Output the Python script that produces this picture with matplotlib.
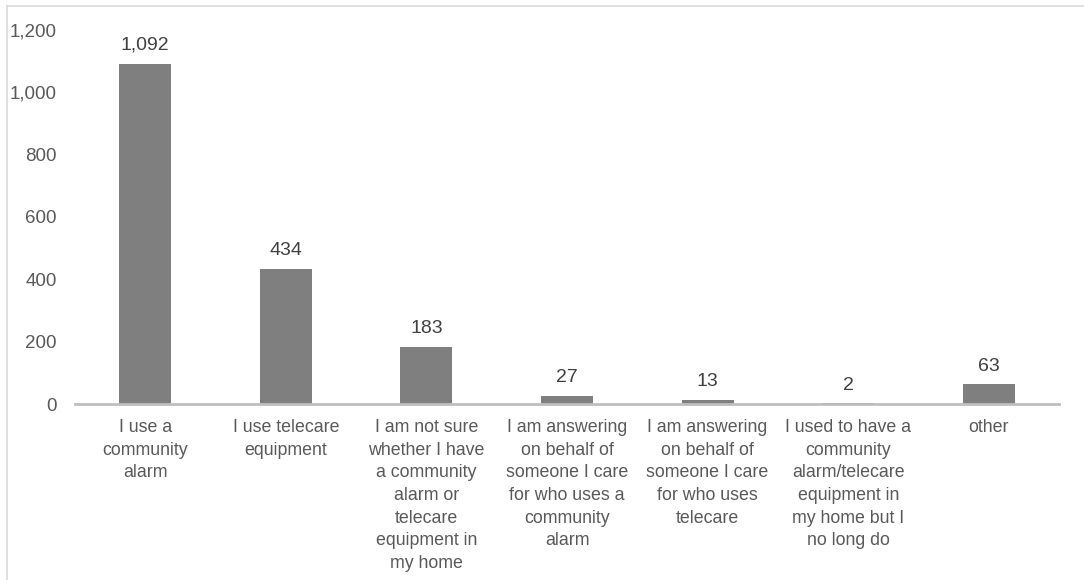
import matplotlib.pyplot as plt
from matplotlib.lines import Line2D

plt.rcParams['font.family'] = ['Liberation Sans', 'DejaVu Sans']

categories = [
    "I use a\ncommunity\nalarm",
    "I use telecare\nequipment",
    "I am not sure\nwhether I have\na community\nalarm or\ntelecare\nequipment in\nmy home",
    "I am answering\non behalf of\nsomeone I care\nfor who uses a\ncommunity\nalarm",
    "I am answering\non behalf of\nsomeone I care\nfor who uses\ntelecare",
    "I used to have a\ncommunity\nalarm/telecare\nequipment in\nmy home but I\nno long do",
    "other",
]
counts = [1092, 434, 183, 27, 13, 2, 63]
yticks = [0, 200, 400, 600, 800, 1000, 1200]

text_col = "#595959"

fig = plt.figure(figsize=(10.84, 5.8), dpi=100)
ax = fig.add_axes([0.0692, 0.3034, 0.9078, 0.645])

x = range(len(counts))
bars = ax.bar(x, counts, width=0.37, color="#7f7f7f", zorder=2)

for b, v in zip(bars, counts):
    ax.annotate(f"{v:,}", (b.get_x() + b.get_width() / 2, v),
                xytext=(0, 7), textcoords="offset points",
                ha="center", va="bottom", fontsize=14, color="#404040")

ax.set_xlim(-0.5, len(counts) - 0.5)
ax.set_ylim(0, 1200)
ax.set_yticks(yticks)
ax.set_yticklabels([f"{t:,}" for t in yticks])
ax.set_xticks(list(x))
ax.set_xticklabels(categories, linespacing=1.43)

ax.tick_params(axis="y", length=0, pad=13, labelsize=13.5, labelcolor=text_col)
ax.tick_params(axis="x", length=0, pad=11, labelsize=12.8, labelcolor=text_col)
for t in ax.get_xticklabels():
    t.set_verticalalignment("top")

for side in ["left", "right", "top"]:
    ax.spines[side].set_visible(False)
ax.spines["bottom"].set_color("#bfbfbf")
ax.spines["bottom"].set_linewidth(2)

# thin outer frame of the chart area
fig.add_artist(Line2D([7 / 1084, 7 / 1084], [0, 1 - 6 / 580],
                      color="#d9d9d9", lw=1.2, transform=fig.transFigure))
fig.add_artist(Line2D([7 / 1084, 1], [1 - 6 / 580, 1 - 6 / 580],
                      color="#d9d9d9", lw=1.2, transform=fig.transFigure))

fig.savefig("out.png", dpi=100)
